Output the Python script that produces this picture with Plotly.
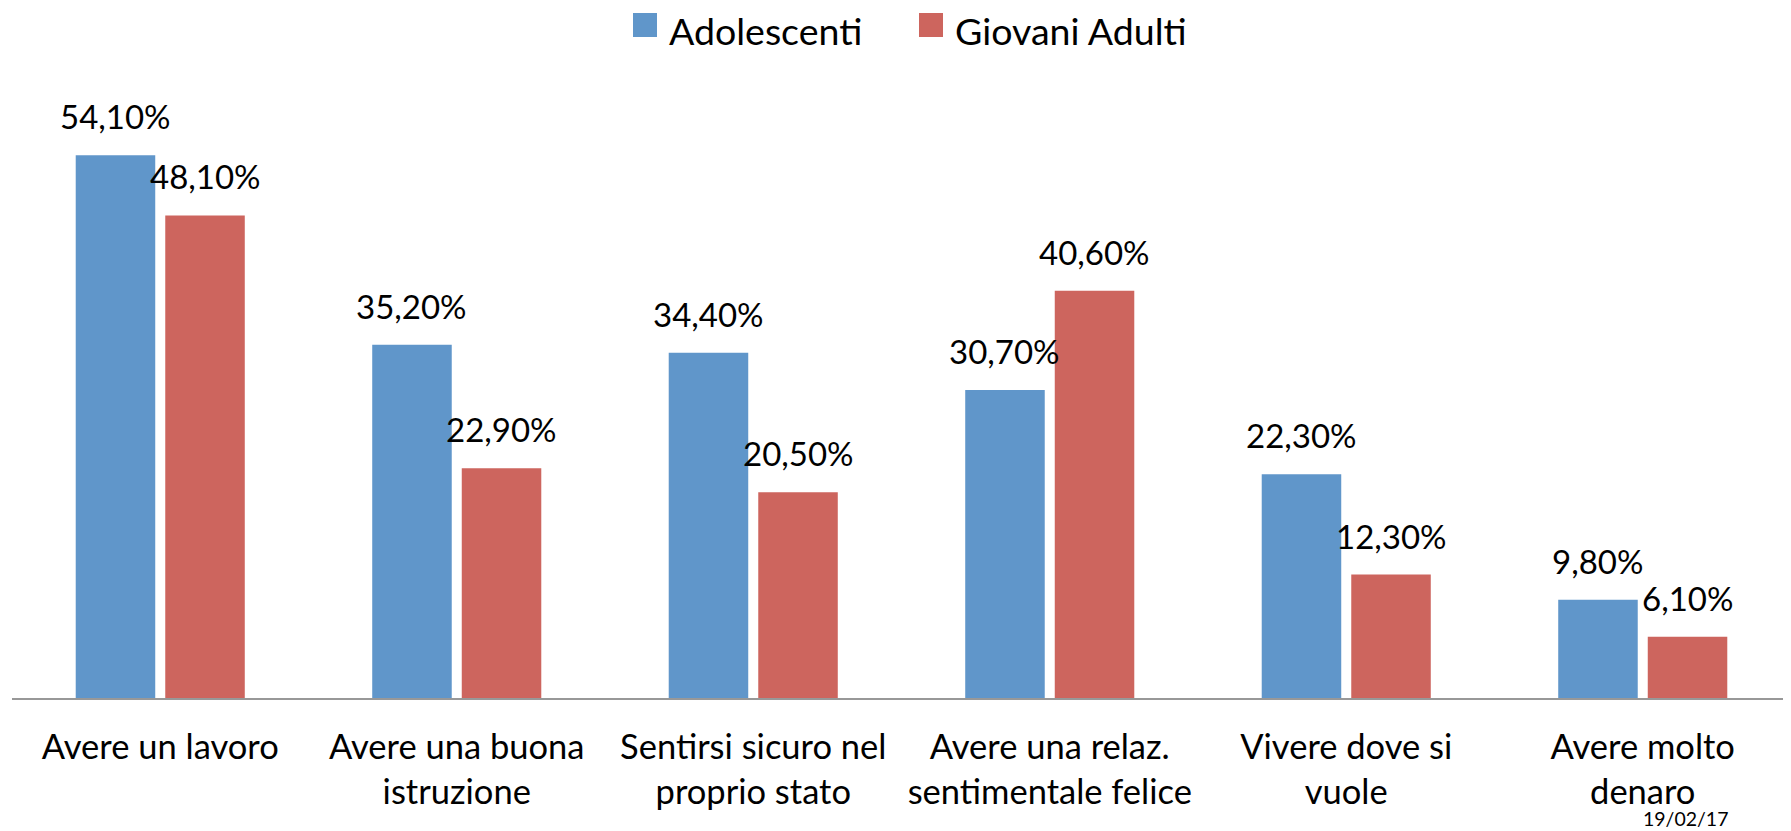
import plotly.graph_objects as go

categories = [
    "Avere un lavoro",
    "Avere una buona<br>istruzione",
    "Sentirsi sicuro nel<br>proprio stato",
    "Avere una relaz.<br>sentimentale felice",
    "Vivere dove si<br>vuole",
    "Avere molto<br>denaro",
]
adolescenti = [54.1, 35.2, 34.4, 30.7, 22.3, 9.8]
giovani_adulti = [48.1, 22.9, 20.5, 40.6, 12.3, 6.1]
series_names = ["Adolescenti", "Giovani Adulti"]
colors = ["#6096CA", "#CD655E"]
date_label = "19/02/17"

FONT = "Lato"
PAGE_OFF = 8  # default body margin of the html page
W, H = 1791 - PAGE_OFF, 831 - PAGE_OFF
margin = dict(l=4, r=0, t=88, b=133)
bargap = 0.396
bargroupgap = 0.112

plot_w = W - margin["l"] - margin["r"]
plot_h = H - margin["t"] - margin["b"]
base_y = H - margin["b"]


def px_x(px):
    return (px - PAGE_OFF - margin["l"]) / plot_w


def px_y(py):
    return (base_y - (py - PAGE_OFF)) / plot_h


fig = go.Figure()
for name, vals, col in zip(series_names, [adolescenti, giovani_adulti], colors):
    fig.add_trace(go.Bar(
        x=categories, y=vals, name=name,
        marker=dict(color=col, line=dict(width=0)),
        showlegend=False,
    ))

# data labels above bars
cat_w = plot_w / len(categories)
slot = cat_w * (1 - bargap) / 2
for i, vals in enumerate([adolescenti, giovani_adulti]):
    off = (i - 0.5) * slot
    for c, v in zip(categories, vals):
        fig.add_annotation(
            x=c, y=v, xref="x", yref="y",
            text=f"{v:.2f}".replace(".", ",") + "%",
            showarrow=False, yanchor="bottom", xanchor="center",
            xshift=off, yshift=17,
            font=dict(family=FONT, size=33, color="#000000"),
        )

# legend (drawn manually to match large square keys)
legend_items = [(633, 668), (919, 954)]
for (sq_x, tx_x), name, col in zip(legend_items, series_names, colors):
    fig.add_shape(
        type="rect", xref="paper", yref="paper",
        x0=px_x(sq_x), x1=px_x(sq_x + 24), y0=px_y(37), y1=px_y(13),
        fillcolor=col, line=dict(width=0),
    )
    fig.add_annotation(
        x=px_x(tx_x), y=px_y(31), xref="paper", yref="paper",
        text=name, showarrow=False, xanchor="left", yanchor="middle",
        borderpad=0,
        font=dict(family=FONT, size=37.5, color="#000000"),
    )

fig.add_annotation(
    x=px_x(1686), y=px_y(818), xref="paper", yref="paper",
    text=date_label, showarrow=False, xanchor="center", yanchor="middle",
    borderpad=0,
    font=dict(family=FONT, size=19.5, color="#000000"),
)

fig.update_layout(
    width=W, height=H,
    margin=margin,
    paper_bgcolor="white", plot_bgcolor="white",
    barmode="group", bargap=bargap, bargroupgap=bargroupgap,
    font=dict(family=FONT, size=34, color="#000000"),
    showlegend=False,
    xaxis=dict(
        showline=True, linecolor="#989898", linewidth=2,
        ticks="", showgrid=False, tickfont=dict(family=FONT, size=34.5),
        ticklabelstandoff=18, automargin=False,
    ),
    yaxis=dict(
        range=[0, 60], visible=False, showgrid=False, zeroline=False,
        automargin=False,
    ),
)
fig.write_html("out.html")
